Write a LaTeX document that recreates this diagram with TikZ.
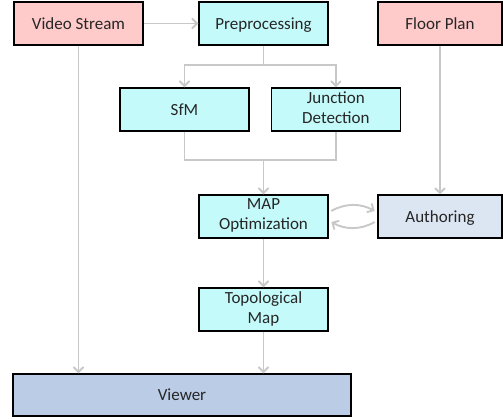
\documentclass[tikz,border=0pt]{standalone}
\usepackage{fontspec}
\setmainfont{Carlito}
\usepackage{tikz}
\usetikzlibrary{arrows}
\usetikzlibrary{positioning}

\definecolor{inputcol}{RGB}{255,202,202}
\definecolor{stepcol}{RGB}{196,250,250}
\definecolor{authcol}{RGB}{220,229,242}
\definecolor{viewcol}{RGB}{186,204,230}
\definecolor{linkcol}{RGB}{200,200,200}

\newcommand{\boxstrut}{\rule[-4pt]{0pt}{19pt}}

\begin{document}
\begin{tikzpicture}[->,>=angle 90,x=1pt,y=1pt,
	main node/.style={rectangle, draw=black, line width=1.4pt, minimum width=129pt, minimum height=43pt, inner sep=0pt, align=center, text=black!85, font=\fontsize{17}{20}\selectfont, execute at begin node=\boxstrut, execute at end node=\boxstrut},
	link/.style={draw=linkcol, line width=1.9pt}]
	
	\useasboundingbox (0,0) rectangle (503,-418);
	
	\node[main node, fill=inputcol] (1) at (78.5,-23.5) {Video Stream};
	\node[main node, fill=stepcol] (2) at (263.5,-23.5) {Preprocessing};
	\node[main node, fill=inputcol, minimum width=124pt] (3) at (440,-23.5) {Floor Plan};
	\node[main node, fill=stepcol] (4) at (184.5,-109.5) {SfM};
	\node[main node, fill=stepcol, right=21pt of 4] (5) {Junction\\Detection};
	\node[main node, fill=stepcol] (6) at (263.5,-216.5) {MAP\\Optimization};
	\node[main node, fill=authcol, minimum width=124pt] (7) at (440,-216.5) {Authoring};
	\node[main node, fill=stepcol] (8) at (263.5,-309.5) {Topological\\Map};
	\node[main node, fill=viewcol, minimum width=338pt, minimum height=42pt] (9) at (182,-395) {Viewer};
	
	\coordinate (s) at (263.5,-65);
	\coordinate (m) at (263.5,-160);
	
	\draw[link] (1) -- (2);
	\draw[link, -] (2.south) -- (s);
	\draw[link] (s) -| (4.north);
	\draw[link] (s) -| (5.north);
	\draw[link, -] (4.south) |- (m);
	\draw[link, -] (5.south) |- (m);
	\draw[link] (m) -- (6.north);
	\draw[link] (3.south) -- (7.north);
	\draw[link, shorten <=3pt, shorten >=3pt] ([yshift=4pt]6.east) to [bend left=30] ([yshift=4pt]7.west);
	\draw[link, shorten <=3pt, shorten >=3pt] ([yshift=-4pt]7.west) to [bend left=30] ([yshift=-4pt]6.east);
	\draw[link] (6) -- (8);
	\draw[link] (8.south) -- (8.south |- 9.north);
	\draw[link] (1.south) -- (1.south |- 9.north);
\end{tikzpicture}
\end{document}
